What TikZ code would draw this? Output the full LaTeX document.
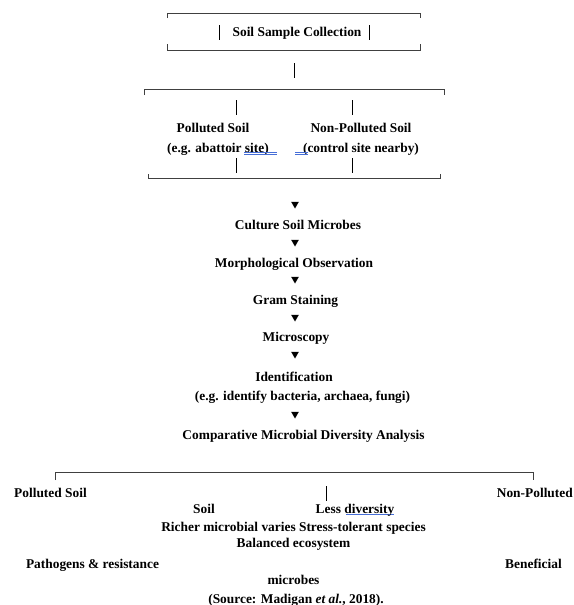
\documentclass[tikz,border=0pt]{standalone}
\usepackage{fontspec}
\setmainfont{Liberation Serif}
\usepackage{xcolor}
\usetikzlibrary{shapes.geometric}
\tikzset{>=latex}
\definecolor{spellblue}{RGB}{70,110,215}
\tikzstyle{txt} = [inner sep=0pt, text height=9pt, text depth=0pt, font=\fontsize{13.4}{15}\selectfont\bfseries]
\tikzstyle{brk} = [-, draw=black!75, line width=0.8pt]
\tikzstyle{tri} = [regular polygon, regular polygon sides=3, shape border rotate=180, fill=black, draw=none, inner sep=0pt, minimum size=9pt]
\tikzstyle{spell} = [-, draw=spellblue, line width=0.6pt]

\begin{document}
\begin{tikzpicture}[x=1pt, y=-1pt]
\useasboundingbox (0,0) rectangle (573,605);
% sampling part
\node [txt] (SC) at (297, 32) {Soil Sample Collection};
\node [txt] (P) at (213, 128) {Polluted Soil};
\node [txt] (Pe) at (218, 148) {(e.g. abattoir site)};
\node [txt] (NP) at (361, 128) {Non-Polluted Soil};
\node [txt] (NPe) at (361, 148) {(control site nearby)};
% brackets
\coordinate (ta) at (167, 18);
\coordinate (tb) at (420, 18);
\coordinate (tc) at (167, 44);
\coordinate (td) at (420, 44);
\coordinate (ma) at (144, 95);
\coordinate (mb) at (444, 95);
\coordinate (mc) at (148, 174);
\coordinate (md) at (440, 174);
\coordinate (ba) at (55, 480);
\coordinate (bb) at (533, 480);
\draw [brk] (ta) -- ++(0, -5) -| (tb);
\draw [brk] (tc) -- ++(0, 6) -| (td);
\draw [brk] (ma) -- ++(0, -6) -| (mb);
\draw [brk] (mc) -- ++(0, 4) -| (md);
\draw [brk] (ba) -- ++(0, -8) -| (bb);
% little bars
\foreach \n/\x/\y in {s1/219/25, s2/369/25, s3/294/63, p1/236/100, p2/352/100, p3/236/158, p4/352/158, d1/326/486} {
  \coordinate (\n t) at (\x, \y);
  \coordinate (\n b) at (\x, \y + 15);
  \draw [-, draw=black, line width=0.8pt] (\n t) -- (\n b);
}
% spelling marks
\coordinate (u1) at (244, 152);
\coordinate (u2) at (277, 152);
\coordinate (u3) at (295, 152);
\coordinate (u4) at (308, 152);
\coordinate (u5) at (346, 514);
\coordinate (u6) at (394, 514);
\draw [spell] (u1) -- (u2);
\draw [spell] ([yshift=-2.3pt]u1) -- ([yshift=-2.3pt]u2);
\draw [spell] (u3) -- (u4);
\draw [spell] ([yshift=-2.3pt]u3) -- ([yshift=-2.3pt]u4);
\draw [spell] (u5) -- (u6);
% workflow
\foreach \i/\y in {1/204, 2/242, 3/279, 4/317, 5/354, 6/414}
  \node [tri] (t\i) at (295, \y) {};
\node [txt] (C) at (298, 225) {Culture Soil Microbes};
\node [txt] (M) at (294, 263) {Morphological Observation};
\node [txt] (G) at (295.5, 300) {Gram Staining};
\node [txt] (Mi) at (296, 337) {Microscopy};
\node [txt] (I) at (294, 377) {Identification};
\node [txt] (Ie) at (302.5, 396) {(e.g. identify bacteria, archaea, fungi)};
\node [txt] (CA) at (303.5, 435) {Comparative Microbial Diversity Analysis};
% comparison
\node [txt] (PS) at (50.5, 493) {Polluted Soil};
\node [txt, anchor=east] (NPo) at (573, 493) {Non-Polluted};
\node [txt] (S) at (204, 509) {Soil};
\node [txt] (L) at (355, 509) {Less diversity};
\node [txt] (R) at (293.5, 527) {Richer microbial varies Stress-tolerant species};
\node [txt] (B) at (293.5, 543) {Balanced ecosystem};
\node [txt] (Pa) at (92.5, 564) {Pathogens \& resistance};
\node [txt] (Be) at (533.5, 564) {Beneficial};
\node [txt] (Mc) at (293.5, 580) {microbes};
\node [txt] (Src) at (296, 599) {(Source: Madigan \textit{et al.}, 2018).};
\end{tikzpicture}
\end{document}
